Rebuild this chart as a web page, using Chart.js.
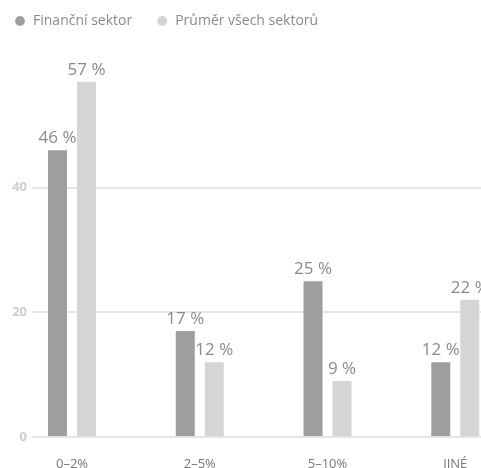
<!DOCTYPE html>
<html>
<head>
<meta charset="utf-8">
<script src="https://cdn.jsdelivr.net/npm/chart.js@4"></script>
<style>
  html, body { margin: 0; padding: 0; background: #fff; overflow: hidden; }
  #wrap { position: relative; width: 530px; height: 468px; }
</style>
</head>
<body>
<div id="wrap"><canvas id="chart"></canvas></div>
<script>
const categories = ['0–2%', '2–5%', '5–10%', 'JINÉ'];
const financniSektor = [46, 17, 25, 12];
const prumerSektoru = [57, 12, 9, 22];
const yTicks = [0, 20, 40];

const FONT = "'Open Sans', sans-serif";

// popisky hodnot nad sloupci
const valueLabels = {
  id: 'valueLabels',
  afterDatasetsDraw(chart) {
    const ctx = chart.ctx;
    ctx.save();
    ctx.font = '17px ' + FONT;
    ctx.fillStyle = '#8a8a8a';
    ctx.textAlign = 'center';
    ctx.textBaseline = 'alphabetic';
    chart.data.datasets.forEach((ds, i) => {
      chart.getDatasetMeta(i).data.forEach((bar, j) => {
        ctx.fillText(ds.data[j].y + ' %', bar.x, bar.y - 7);
      });
    });
    ctx.restore();
  }
};

// pevná výška legendy
const legendHeight = {
  id: 'legendHeight',
  beforeInit(chart) {
    const fit = chart.legend.fit;
    chart.legend.fit = function () {
      fit.call(this);
      this.height = 73;
    };
  }
};

const toPoints = arr => arr.map((v, i) => ({ x: i, y: v }));

new Chart(document.getElementById('chart'), {
  type: 'bar',
  data: {
    datasets: [
      {
        label: 'Finanční sektor',
        data: toPoints(financniSektor),
        backgroundColor: '#9e9e9e',
        borderWidth: 0,
        categoryPercentage: 0.454,
        barPercentage: 0.655
      },
      {
        label: 'Průměr všech sektorů',
        data: toPoints(prumerSektoru),
        backgroundColor: '#d5d5d5',
        borderWidth: 0,
        categoryPercentage: 0.454,
        barPercentage: 0.655
      }
    ]
  },
  options: {
    responsive: true,
    maintainAspectRatio: false,
    animation: false,
    layout: { padding: { left: -10, top: -10 } },
    plugins: {
      legend: {
        position: 'top',
        align: 'start',
        labels: {
          usePointStyle: true,
          pointStyle: 'circle',
          boxWidth: 12,
          boxHeight: 7,
          padding: 24,
          color: '#8a8a8a',
          font: { family: FONT, size: 14 }
        }
      },
      tooltip: { enabled: false }
    },
    scales: {
      x: {
        type: 'linear',
        offset: false,
        min: -0.235,
        max: 3.585,
        afterFit(s) { s.height = 31; },
        afterBuildTicks(s) { s.ticks = categories.map((c, i) => ({ value: i })); },
        grid: { display: false },
        border: { display: false },
        ticks: {
          callback: v => categories[v],
          color: '#777',
          padding: 11,
          maxRotation: 0,
          autoSkip: false,
          font: { family: FONT, size: 13 }
        }
      },
      y: {
        min: 0,
        max: 60,
        afterFit(s) { s.width = 52; },
        afterBuildTicks(s) { s.ticks = yTicks.map(v => ({ value: v })); },
        grid: { color: '#e5e5e5', lineWidth: 2, tickLength: 10 },
        border: { display: false },
        ticks: {
          padding: 5,
          color: '#cdcdcd',
          font: { family: FONT, size: 13, weight: 'bold' }
        }
      }
    }
  },
  plugins: [valueLabels, legendHeight]
});
</script>
</body>
</html>
